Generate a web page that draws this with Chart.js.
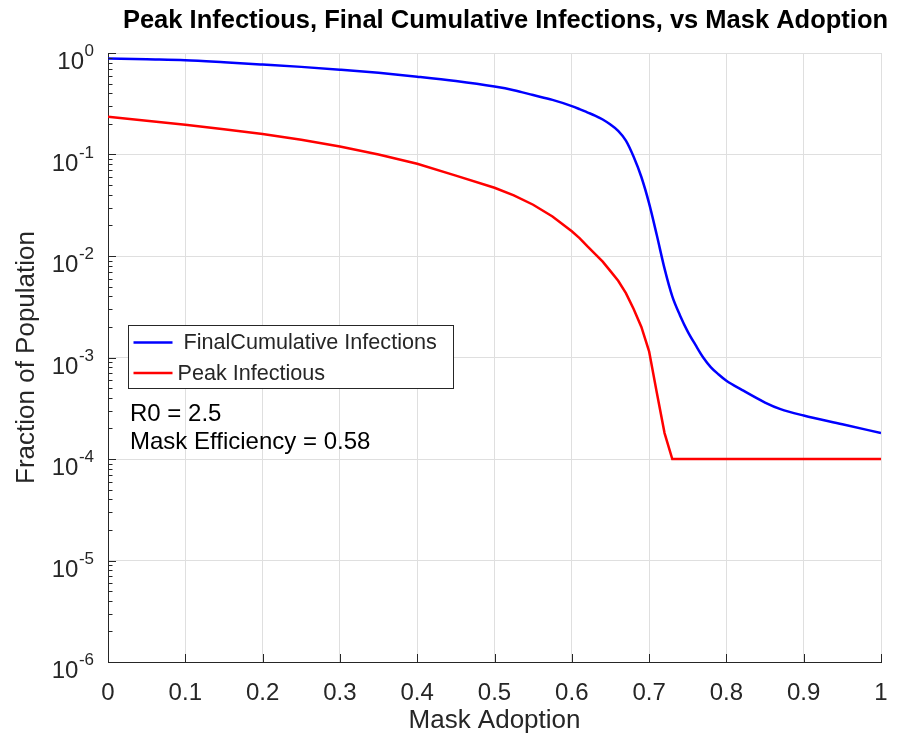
<!DOCTYPE html>
<html>
<head>
<meta charset="utf-8">
<script src="https://cdn.jsdelivr.net/npm/chart.js@4.4.1/dist/chart.umd.min.js"></script>
<style>
  body { margin: 0; background: #fff; }
  #wrap { width: 897px; height: 738px; }
</style>
</head>
<body>
<div id="wrap"><canvas id="grafico"></canvas></div>
<script>
// datos (eje x = adopcion de mascaras)
const adopcion = [0, 0.05, 0.1, 0.15, 0.2, 0.25, 0.3, 0.35, 0.4, 0.45, 0.5, 0.525, 0.55, 0.575, 0.6,
    0.61, 0.62, 0.63, 0.64, 0.65, 0.66, 0.67, 0.68, 0.69, 0.7,
    0.71, 0.72, 0.73, 0.74, 0.75, 0.76, 0.77, 0.78, 0.79, 0.8,
    0.82, 0.85, 0.87, 0.9, 0.95, 1];

// infecciones acumuladas finales (azul)
const infeccionesFinales = [0.885, 0.866, 0.847, 0.81, 0.77, 0.73, 0.685, 0.638, 0.585, 0.53, 0.467, 0.43, 0.385, 0.345, 0.30,
    0.28, 0.26, 0.242, 0.221, 0.197, 0.171, 0.137, 0.095, 0.06, 0.033,
    0.016, 0.0075, 0.0040, 0.0026, 0.0018, 0.00133, 0.00100, 0.00080, 0.00068, 0.00059,
    0.00048, 0.00036, 0.00031, 0.000268, 0.00022, 0.00018];

// pico de infecciosos (rojo)
const picoInfecciosos = [0.236, 0.215, 0.196, 0.177, 0.159, 0.14, 0.12, 0.10, 0.081, 0.062, 0.047, 0.0395, 0.032, 0.0245, 0.0175,
    0.015, 0.0125, 0.0105, 0.0088, 0.0071, 0.0057, 0.0043, 0.0030, 0.0020, 0.00115,
    0.00045, 0.00018, 0.0001, 0.0001, 0.0001, 0.0001, 0.0001, 0.0001, 0.0001, 0.0001,
    0.0001, 0.0001, 0.0001, 0.0001, 0.0001, 0.0001];

const nombres = [' FinalCumulative Infections', 'Peak Infectious'];
const colores = ['#0000ff', '#ff0000'];

// ticks
const xTicks = [0, 0.1, 0.2, 0.3, 0.4, 0.5, 0.6, 0.7, 0.8, 0.9, 1];
const yExponentes = [-6, -5, -4, -3, -2, -1, 0];

const titulo = 'Peak Infectious, Final Cumulative Infections, vs Mask Adoption';
const notas = ['R0 = 2.5', 'Mask Efficiency = 0.58'];

const fuente = "'Liberation Sans', Arial, sans-serif";
const gris = '#262626';

// ticks hacia adentro, etiquetas 10^n, leyenda y textos
const decorado = {
    id: 'decorado',
    afterDraw(chart) {
        const { ctx, chartArea: a, scales: { x, y } } = chart;
        ctx.save();
        ctx.strokeStyle = gris;
        ctx.lineWidth = 1;
        ctx.beginPath();
        x.ticks.forEach(t => {
            const px = Math.round(x.getPixelForValue(t.value)) + 0.5;
            ctx.moveTo(px, a.bottom);
            ctx.lineTo(px, a.bottom - 8);
        });
        yExponentes.forEach(e => {
            const py = Math.round(y.getPixelForValue(Math.pow(10, e))) + 0.5;
            ctx.moveTo(a.left, py);
            ctx.lineTo(a.left + 8, py);
            if (e < 0) {
                for (let m = 2; m <= 9; m++) {
                    const pm = Math.round(y.getPixelForValue(m * Math.pow(10, e))) + 0.5;
                    ctx.moveTo(a.left, pm);
                    ctx.lineTo(a.left + 4.5, pm);
                }
            }
        });
        ctx.stroke();

        // etiquetas del eje y
        ctx.fillStyle = gris;
        ctx.textBaseline = 'alphabetic';
        ctx.textAlign = 'right';
        yExponentes.forEach(e => {
            const py = y.getPixelForValue(Math.pow(10, e));
            const exp = String(e);
            ctx.font = '17px ' + fuente;
            const w = ctx.measureText(exp).width;
            ctx.fillText(exp, a.left - 14, py + 3);
            ctx.font = '24px ' + fuente;
            ctx.fillText('10', a.left - 14 - w - 0.5, py + 16);
        });

        // titulo
        ctx.textAlign = 'center';
        ctx.font = 'bold 25.5px ' + fuente;
        ctx.fillStyle = '#000';
        ctx.fillText(titulo, 505.5, 28);

        // leyenda
        const lx = 128.5, ly = 325.5, lw = 325, lh = 63;
        ctx.fillStyle = '#fff';
        ctx.fillRect(lx, ly, lw, lh);
        ctx.strokeStyle = gris;
        ctx.strokeRect(lx, ly, lw, lh);
        ctx.font = '21.6px ' + fuente;
        ctx.textAlign = 'left';
        ctx.textBaseline = 'middle';
        chart.data.datasets.forEach((ds, i) => {
            const yy = ly + 17 + i * 30.6;
            ctx.strokeStyle = ds.borderColor;
            ctx.lineWidth = 2.5;
            ctx.beginPath();
            ctx.moveTo(lx + 5, yy);
            ctx.lineTo(lx + 44, yy);
            ctx.stroke();
            ctx.fillStyle = gris;
            ctx.fillText(ds.label, lx + 49, yy + 1);
        });

        // notas R0 y eficiencia
        ctx.font = '24px ' + fuente;
        ctx.textBaseline = 'alphabetic';
        ctx.fillStyle = '#000';
        notas.forEach((n, i) => ctx.fillText(n, 130, 421 + i * 27.5));
        ctx.restore();
    }
};

new Chart(document.getElementById('grafico'), {
    type: 'line',
    data: {
        datasets: [infeccionesFinales, picoInfecciosos].map((serie, i) => ({
            label: nombres[i],
            data: adopcion.map((v, j) => ({ x: v, y: serie[j] })),
            borderColor: colores[i],
            borderWidth: 2.5,
            pointRadius: 0,
            tension: 0,
            // la azul es suave, la roja tiene esquina en 0.73
            cubicInterpolationMode: i === 0 ? 'monotone' : 'default',
            fill: false
        }))
    },
    options: {
        responsive: true,
        maintainAspectRatio: false,
        animation: false,
        layout: { padding: { top: 53, right: 16, left: 0, bottom: 0 } },
        plugins: { legend: { display: false }, title: { display: false }, tooltip: { enabled: false } },
        scales: {
            x: {
                type: 'linear', min: 0, max: 1,
                afterBuildTicks: s => { s.ticks = xTicks.map(v => ({ value: v })); },
                afterFit: s => { s.height = 76; s.paddingLeft = 0; s.paddingRight = 0; },
                grid: { color: '#dfdfdf', drawTicks: false },
                border: { color: gris },
                ticks: { font: { family: fuente, size: 24 }, color: gris, padding: 17, maxRotation: 0, callback: v => String(v) },
                title: { display: true, text: 'Mask Adoption', font: { family: fuente, size: 26 }, color: gris, padding: { top: 0, bottom: 2 } }
            },
            y: {
                type: 'logarithmic', min: 1e-6, max: 1,
                afterBuildTicks: s => { s.ticks = yExponentes.map(e => ({ value: Math.pow(10, e), major: true })); },
                afterFit: s => { s.width = 108; s.paddingTop = 0; s.paddingBottom = 0; },
                grid: { color: '#dfdfdf', drawTicks: false },
                border: { color: gris },
                ticks: { display: false },
                title: { display: true, text: 'Fraction of Population', font: { family: fuente, size: 26 }, color: gris, padding: { top: 11, bottom: 0 } }
            }
        }
    },
    plugins: [decorado]
});
</script>
</body>
</html>
